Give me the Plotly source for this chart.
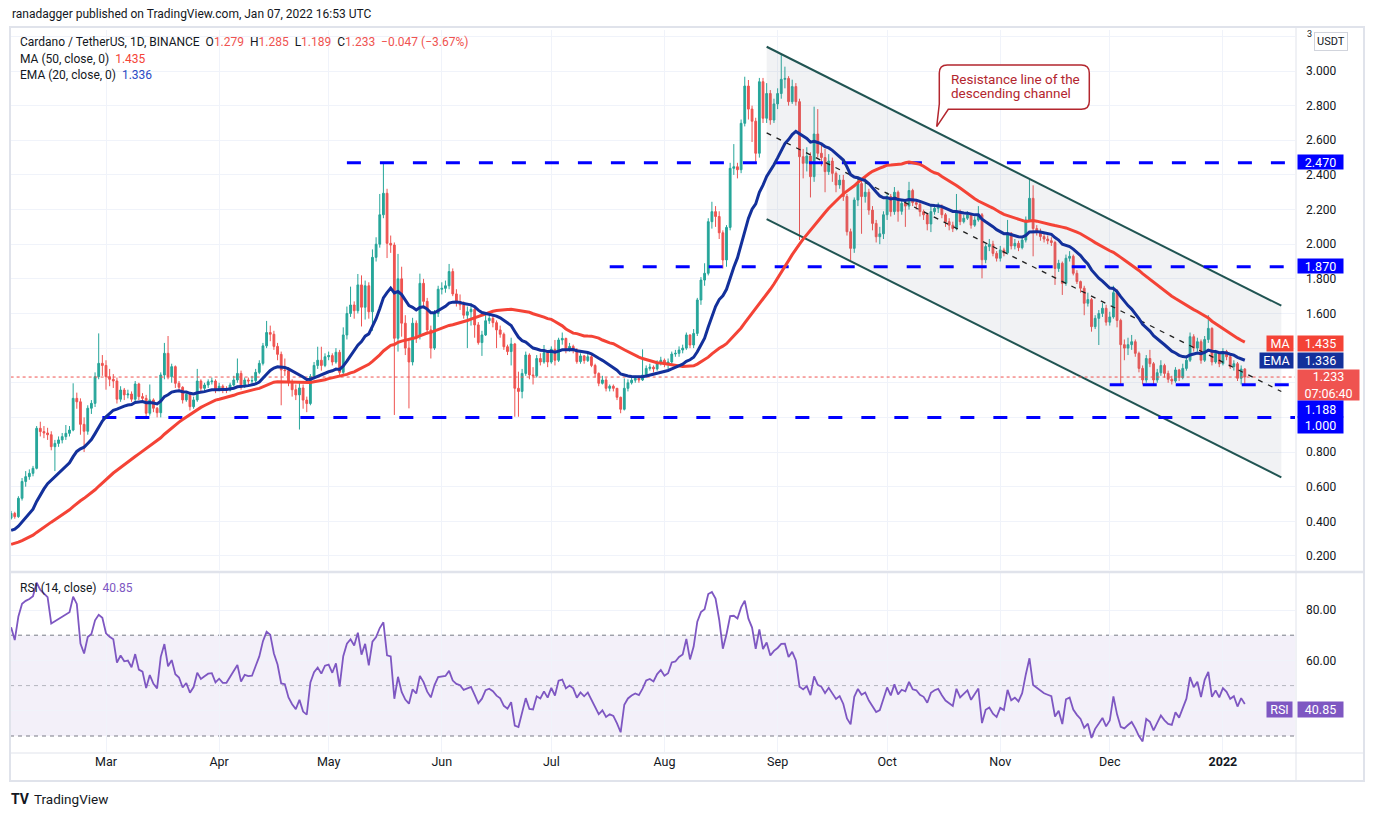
import pandas as pd
import plotly.graph_objects as go

# ---------------- data ----------------
# daily closes, 2021-02-03 .. 2022-01-07 (ADA/USDT, Binance)
closes = [
    # Feb 3-28
    0.446, 0.427, 0.533, 0.630, 0.658, 0.677, 0.706, 0.937, 0.918, 0.910, 0.900, 0.831, 0.850,
    0.870, 0.889, 0.908, 0.927, 1.110, 1.090, 0.960, 0.920, 1.053, 1.081, 1.235, 1.312, 1.300,
    # Mar
    1.235, 1.220, 1.210, 1.105, 1.158, 1.130, 1.135, 1.105, 1.193, 1.120, 1.110, 1.024, 1.101,
    1.053, 1.027, 1.245, 1.370, 1.235, 1.293, 1.197, 1.174, 1.101, 1.134, 1.062, 1.101, 1.210,
    1.168, 1.187, 1.206, 1.210, 1.158,
    # Apr
    1.180, 1.158, 1.158, 1.187, 1.216, 1.254, 1.180, 1.216, 1.210, 1.212, 1.260, 1.312, 1.413,
    1.490, 1.480, 1.410, 1.364, 1.274, 1.270, 1.200, 1.160, 1.130, 1.170, 1.100, 1.080, 1.236,
    1.300, 1.330, 1.300, 1.350,
    # May
    1.357, 1.320, 1.376, 1.260, 1.476, 1.600, 1.649, 1.616, 1.765, 1.636, 1.760, 1.610, 1.924,
    2.000, 2.170, 2.294, 2.005, 1.995, 1.457, 1.800, 1.544, 1.400, 1.320, 1.544, 1.470, 1.774,
    1.670, 1.505, 1.400, 1.600, 1.740,
    # Jun
    1.745, 1.760, 1.842, 1.713, 1.668, 1.650, 1.590, 1.610, 1.624, 1.534, 1.432, 1.476, 1.558,
    1.572, 1.547, 1.505, 1.480, 1.408, 1.380, 1.424, 1.168, 1.150, 1.254, 1.360, 1.245, 1.240,
    1.340, 1.320, 1.374, 1.320,
    # Jul
    1.393, 1.330, 1.447, 1.456, 1.389, 1.410, 1.390, 1.322, 1.355, 1.328, 1.350, 1.300, 1.254,
    1.197, 1.216, 1.168, 1.180, 1.168, 1.116, 1.047, 1.168, 1.200, 1.215, 1.225, 1.216, 1.245,
    1.283, 1.290, 1.280, 1.312, 1.330,
    # Aug
    1.310, 1.320, 1.366, 1.370, 1.389, 1.400, 1.476, 1.418, 1.485, 1.678, 1.793, 1.832, 2.130,
    2.188, 2.160, 2.066, 1.909, 2.097, 2.438, 2.447, 2.430, 2.698, 2.913, 2.780, 2.710, 2.525,
    2.938, 2.727, 2.870, 2.717, 2.810,
    # Sep
    2.870, 2.952, 2.957, 2.823, 2.910, 2.823, 2.505, 2.467, 2.509, 2.390, 2.636, 2.525, 2.500,
    2.419, 2.480, 2.409, 2.342, 2.370, 2.275, 2.072, 1.976, 2.255, 2.350, 2.275, 2.300, 2.197,
    2.120, 2.043, 2.060, 2.170,
    # Oct
    2.275, 2.188, 2.300, 2.190, 2.236, 2.220, 2.310, 2.240, 2.230, 2.188, 2.170, 2.117, 2.188,
    2.207, 2.217, 2.170, 2.130, 2.110, 2.090, 2.188, 2.130, 2.150, 2.170, 2.110, 2.140, 2.170,
    1.910, 1.986, 2.000, 1.947, 1.919,
    # Nov
    1.967, 1.950, 2.063, 1.990, 2.005, 1.980, 2.024, 2.140, 2.265, 2.090, 2.070, 2.044, 2.030,
    2.020, 2.010, 1.860, 1.890, 1.774, 1.919, 1.930, 1.832, 1.784, 1.746, 1.659, 1.680, 1.524,
    1.572, 1.600, 1.630, 1.550,
    # Dec
    1.580, 1.720, 1.560, 1.420, 1.400, 1.420, 1.437, 1.370, 1.283, 1.216, 1.340, 1.310, 1.216,
    1.258, 1.300, 1.254, 1.220, 1.210, 1.274, 1.230, 1.283, 1.330, 1.466, 1.400, 1.437, 1.330,
    1.450, 1.514, 1.320, 1.370, 1.310,
    # Jan 1-7
    1.380, 1.350, 1.293, 1.310, 1.226, 1.279, 1.233,
]

highs = [
    0.46, 0.455, 0.545, 0.65, 0.69, 0.70, 0.72, 0.95, 0.975, 0.95, 0.94, 0.92, 0.87,
    0.89, 0.91, 0.956, 0.95, 1.197, 1.143, 1.11, 1.00, 1.07, 1.10, 1.26, 1.485, 1.36,
    1.33, 1.28, 1.25, 1.23, 1.18, 1.17, 1.16, 1.15, 1.21, 1.20, 1.14, 1.13, 1.19,
    1.11, 1.06, 1.26, 1.43, 1.47, 1.31, 1.30, 1.21, 1.18, 1.15, 1.14, 1.12, 1.28,
    1.22, 1.20, 1.22, 1.23, 1.22,
    1.20, 1.19, 1.18, 1.20, 1.24, 1.34, 1.27, 1.23, 1.23, 1.24, 1.28, 1.33, 1.43,
    1.557, 1.53, 1.50, 1.43, 1.38, 1.34, 1.29, 1.22, 1.19, 1.20, 1.19, 1.12, 1.25,
    1.32, 1.408, 1.408, 1.37,
    1.38, 1.37, 1.40, 1.39, 1.52, 1.64, 1.755, 1.67, 1.828, 1.82, 1.79, 1.78, 1.97,
    2.04, 2.29, 2.467, 2.32, 2.05, 2.01, 1.944, 1.87, 1.59, 1.45, 1.575, 1.56, 1.83,
    1.80, 1.69, 1.53, 1.62, 1.76,
    1.78, 1.79, 1.886, 1.86, 1.74, 1.71, 1.67, 1.64, 1.66, 1.64, 1.55, 1.50, 1.60,
    1.60, 1.59, 1.56, 1.53, 1.49, 1.42, 1.46, 1.43, 1.264, 1.28, 1.38, 1.37, 1.29,
    1.36, 1.37, 1.418, 1.38,
    1.41, 1.447, 1.46, 1.49, 1.46, 1.43, 1.42, 1.40, 1.37, 1.36, 1.37, 1.36, 1.31,
    1.26, 1.24, 1.23, 1.19, 1.19, 1.17, 1.12, 1.225, 1.22, 1.23, 1.24, 1.24, 1.393,
    1.30, 1.31, 1.30, 1.33, 1.35,
    1.34, 1.34, 1.38, 1.39, 1.41, 1.42, 1.49, 1.48, 1.51, 1.69, 1.81, 1.89, 2.15,
    2.245, 2.22, 2.19, 2.08, 2.11, 2.47, 2.578, 2.47, 2.72, 2.967, 2.948, 2.80, 2.73,
    2.96, 2.96, 2.93, 2.89, 2.84,
    2.90, 3.098, 3.025, 2.97, 2.95, 2.93, 2.84, 2.55, 2.56, 2.53, 2.794, 2.78, 2.58,
    2.55, 2.52, 2.50, 2.42, 2.40, 2.40, 2.29, 2.09, 2.27, 2.39, 2.37, 2.39, 2.32,
    2.22, 2.14, 2.10, 2.19,
    2.30, 2.29, 2.33, 2.31, 2.26, 2.26, 2.36, 2.32, 2.26, 2.25, 2.20, 2.18, 2.22,
    2.23, 2.24, 2.23, 2.18, 2.15, 2.13, 2.29, 2.20, 2.17, 2.19, 2.18, 2.16, 2.22,
    2.18, 2.00, 2.03, 2.02, 1.96,
    1.99, 1.98, 2.14, 2.07, 2.03, 2.02, 2.04, 2.16, 2.375, 2.34, 2.11, 2.09, 2.06,
    2.05, 2.04, 2.02, 1.91, 1.90, 1.94, 1.96, 1.94, 1.85, 1.79, 1.76, 1.72, 1.69,
    1.59, 1.62, 1.66, 1.65,
    1.61, 1.76, 1.74, 1.57, 1.45, 1.46, 1.476, 1.45, 1.38, 1.30, 1.36, 1.39, 1.32,
    1.28, 1.33, 1.31, 1.27, 1.24, 1.29, 1.28, 1.31, 1.35, 1.49, 1.48, 1.46, 1.45,
    1.47, 1.59, 1.52, 1.39, 1.38,
    1.40, 1.39, 1.36, 1.33, 1.32, 1.30, 1.285,
]

lows = [
    0.41, 0.415, 0.42, 0.52, 0.60, 0.64, 0.66, 0.70, 0.89, 0.88, 0.87, 0.81, 0.69,
    0.83, 0.85, 0.87, 0.89, 0.92, 1.05, 0.90, 0.80, 0.90, 1.02, 1.06, 1.22, 1.24,
    1.16, 1.18, 1.17, 1.08, 1.09, 1.10, 1.11, 1.09, 1.09, 1.10, 1.09, 1.00, 1.01,
    1.03, 1.00, 1.00, 1.22, 1.22, 1.20, 1.17, 1.15, 1.08, 1.09, 1.04, 1.05, 1.09,
    1.15, 1.15, 1.17, 1.19, 1.14,
    1.15, 1.14, 1.14, 1.15, 1.18, 1.20, 1.16, 1.17, 1.19, 1.19, 1.20, 1.25, 1.30,
    1.40, 1.44, 1.39, 1.33, 1.07, 1.24, 1.18, 1.12, 1.10, 0.93, 1.05, 1.03, 1.07,
    1.22, 1.28, 1.27, 1.29,
    1.33, 1.30, 1.31, 1.24, 1.25, 1.45, 1.58, 1.57, 1.60, 1.525, 1.565, 1.57, 1.50,
    1.90, 1.98, 2.15, 1.92, 1.95, 1.014, 1.38, 1.466, 1.36, 1.052, 1.30, 1.43, 1.45,
    1.63, 1.48, 1.34, 1.39, 1.58,
    1.71, 1.72, 1.74, 1.70, 1.64, 1.62, 1.57, 1.40, 1.53, 1.46, 1.42, 1.355, 1.47,
    1.54, 1.52, 1.40, 1.46, 1.39, 1.36, 1.30, 1.004, 1.004, 1.11, 1.24, 1.22, 1.19,
    1.23, 1.30, 1.31, 1.29,
    1.31, 1.30, 1.32, 1.42, 1.37, 1.38, 1.37, 1.31, 1.31, 1.31, 1.32, 1.29, 1.23,
    1.18, 1.19, 1.15, 1.15, 1.15, 1.10, 1.024, 1.04, 1.15, 1.19, 1.20, 1.20, 1.21,
    1.23, 1.27, 1.26, 1.27, 1.30,
    1.29, 1.28, 1.30, 1.35, 1.35, 1.37, 1.39, 1.40, 1.40, 1.47, 1.65, 1.76, 1.82,
    2.09, 2.10, 2.03, 1.86, 1.87, 2.08, 2.40, 2.38, 2.41, 2.68, 2.72, 2.59, 2.477,
    2.50, 2.70, 2.70, 2.69, 2.70,
    2.78, 2.84, 2.90, 2.80, 2.81, 2.80, 2.024, 2.38, 2.42, 2.27, 2.36, 2.50, 2.45,
    2.30, 2.40, 2.36, 2.30, 2.32, 2.25, 2.05, 1.909, 1.95, 2.22, 2.06, 2.24, 2.17,
    2.08, 2.01, 2.00, 2.03,
    2.14, 2.16, 2.17, 2.13, 2.17, 2.10, 2.20, 2.22, 2.20, 2.16, 2.14, 2.08, 2.07,
    2.17, 2.18, 2.15, 2.10, 2.08, 2.07, 2.08, 2.11, 2.12, 2.14, 2.09, 2.10, 2.13,
    1.803, 1.89, 1.96, 1.93, 1.90,
    1.90, 1.93, 1.94, 1.97, 1.97, 1.96, 1.97, 2.01, 2.13, 1.93, 2.05, 2.02, 2.01,
    2.00, 1.99, 1.765, 1.84, 1.707, 1.76, 1.90, 1.82, 1.77, 1.72, 1.59, 1.64, 1.495,
    1.51, 1.418, 1.58, 1.53,
    1.53, 1.57, 1.52, 1.187, 1.33, 1.36, 1.39, 1.35, 1.26, 1.19, 1.20, 1.29, 1.19,
    1.20, 1.24, 1.23, 1.20, 1.19, 1.20, 1.21, 1.22, 1.27, 1.32, 1.38, 1.38, 1.31,
    1.32, 1.43, 1.30, 1.31, 1.29,
    1.30, 1.33, 1.28, 1.27, 1.21, 1.19, 1.189,
]

first_open = 0.418
start_date = "2021-02-03"

# off-chart closes (2020-12-15 .. 2021-02-02) that seed the MA / EMA / RSI
prior_closes = [
    0.150, 0.160, 0.166, 0.164, 0.168, 0.158, 0.148, 0.146, 0.131, 0.146, 0.153, 0.161, 0.163,
    0.177, 0.174, 0.188, 0.181,
    0.175, 0.177, 0.204, 0.225, 0.258, 0.311, 0.316, 0.302, 0.310, 0.296, 0.258, 0.277, 0.300,
    0.324, 0.333, 0.358, 0.370, 0.375, 0.358, 0.329, 0.290, 0.314, 0.316, 0.344, 0.330, 0.337,
    0.323, 0.366, 0.349, 0.349, 0.353,
    0.392, 0.390,
]

# drawn levels / channel
level_values = [2.470, 1.870, 1.188, 1.000]
level_labels = ["2.470", "1.870", "1.188", "1.000"]
level_starts = ["2021-05-06", "2021-07-17", "2021-12-01", "2021-02-28"]
channel_dates = ["2021-08-29", "2022-01-17"]
channel_upper = [3.140, 1.645]
channel_lower = [2.145, 0.654]
rsi_levels = [70, 50, 30]

month_ticks = ["2021-03-01", "2021-04-01", "2021-05-01", "2021-06-01", "2021-07-01", "2021-08-01",
               "2021-09-01", "2021-10-01", "2021-11-01", "2021-12-01", "2022-01-01"]
month_labels = ["Mar", "Apr", "May", "Jun", "Jul", "Aug", "Sep", "Oct", "Nov", "Dec", "<b>2022</b>"]
price_ticks = [0.2, 0.4, 0.6, 0.8, 1.0, 1.2, 1.4, 1.6, 1.8, 2.0, 2.2, 2.4, 2.6, 2.8, 3.0, 3.2]
hidden_price_ticks = [1.0, 1.2, 1.4, 3.2]
rsi_ticks = [40, 60, 80]

last_ohlc = {"O": "1.279", "H": "1.285", "L": "1.189", "C": "1.233"}
last_change = "\u22120.047 (\u22123.67%)"
ma_value, ema_value, rsi_value = "1.435", "1.336", "40.85"
countdown = "07:06:40"

# ---------------- derived series ----------------
dates = pd.date_range(start_date, periods=len(closes), freq="D")
opens = [first_open] + closes[:-1]
highs_c = [max(h, o, c) for h, o, c in zip(highs, opens, closes)]
lows_c = [min(l, o, c) for l, o, c in zip(lows, opens, closes)]

full = pd.Series(prior_closes + closes)
n0 = len(prior_closes)
ma50 = full.rolling(50, min_periods=1).mean().iloc[n0:].values
ema20 = full.ewm(span=20, adjust=False).mean().iloc[n0:].values
delta = full.diff()
gain = delta.clip(lower=0)
loss = -delta.clip(upper=0)
ag = gain.ewm(alpha=1 / 14, adjust=False).mean()
al = loss.ewm(alpha=1 / 14, adjust=False).mean()
rsi = (100 - 100 / (1 + ag / al)).iloc[n0:].values

# ---------------- styling ----------------
OFF = 8                      # the page body adds an 8px margin; compensate
W, H = 1374 - OFF, 816 - OFF
L_PX, R_PX, T_PX, B_PX = 10, 1295, 30, 752   # plot area in screenshot pixels
FONT = "Roboto"
TXT = "#131722"
GREEN, RED = "#26a69a", "#ef5350"
MA_C, EMA_C, RSI_C = "#f44336", "#13309b", "#7e57c2"
LEVEL_C = "#0000ff"
CH_C = "#205452"
GRID = "#f0f3fa"
BORDER = "#e0e3eb"
CALLOUT_C = "#b3262e"
x_range = ["2021-02-02 16:48", "2022-01-20 18:00"]
x_end = "2022-01-22"


def pxx(x):
    return (x - L_PX) / (R_PX - L_PX)


def pyy(y):
    return (B_PX - y) / (B_PX - T_PX)


fig = go.Figure()

# channel
fig.add_trace(go.Scatter(
    x=[channel_dates[0], channel_dates[1], channel_dates[1], channel_dates[0], channel_dates[0]],
    y=[channel_upper[0], channel_upper[1], channel_lower[1], channel_lower[0], channel_upper[0]],
    fill="toself", fillcolor="rgba(120,125,145,0.10)", line=dict(width=0),
    mode="lines", hoverinfo="skip", xaxis="x", yaxis="y"))
for arr in (channel_upper, channel_lower):
    fig.add_trace(go.Scatter(x=channel_dates, y=arr, mode="lines",
                             line=dict(color=CH_C, width=2), hoverinfo="skip",
                             xaxis="x", yaxis="y"))
mid = [(u + l) / 2 for u, l in zip(channel_upper, channel_lower)]
fig.add_trace(go.Scatter(x=channel_dates, y=mid, mode="lines",
                         line=dict(color="#202020", width=1.3, dash="5px,6px"),
                         hoverinfo="skip", xaxis="x", yaxis="y"))

# horizontal levels
for v, s in zip(level_values, level_starts):
    fig.add_trace(go.Scatter(x=[s, x_end], y=[v, v], mode="lines",
                             line=dict(color=LEVEL_C, width=3, dash="14px,19px"),
                             hoverinfo="skip", xaxis="x", yaxis="y"))

# last price dotted line
fig.add_trace(go.Scatter(x=["2021-01-01", x_end], y=[closes[-1], closes[-1]], mode="lines",
                         line=dict(color=RED, width=1, dash="dot"), hoverinfo="skip",
                         xaxis="x", yaxis="y"))

# candles
fig.add_trace(go.Candlestick(
    x=dates, open=opens, high=highs_c, low=lows_c, close=closes,
    increasing=dict(line=dict(color=GREEN, width=1), fillcolor=GREEN),
    decreasing=dict(line=dict(color=RED, width=1), fillcolor=RED),
    whiskerwidth=0, xaxis="x", yaxis="y", hoverinfo="skip"))

# MA / EMA
fig.add_trace(go.Scatter(x=dates, y=ma50, mode="lines", line=dict(color=MA_C, width=3),
                         hoverinfo="skip", xaxis="x", yaxis="y"))
fig.add_trace(go.Scatter(x=dates, y=ema20, mode="lines", line=dict(color=EMA_C, width=3),
                         hoverinfo="skip", xaxis="x", yaxis="y"))

# RSI
fig.add_trace(go.Scatter(x=dates, y=rsi, mode="lines", line=dict(color=RSI_C, width=1.8),
                         hoverinfo="skip", xaxis="x2", yaxis="y2"))

shapes = []
# RSI band and guide lines
shapes.append(dict(type="rect", xref="paper", yref="y2", x0=0, x1=1, y0=rsi_levels[2], y1=rsi_levels[0],
                   fillcolor="rgba(126,87,194,0.09)", line=dict(width=0), layer="below"))
for lv in rsi_levels:
    shapes.append(dict(type="line", xref="paper", yref="y2", x0=0, x1=1, y0=lv, y1=lv,
                       line=dict(color="#787b86" if lv != 50 else "rgba(120,123,134,0.5)",
                                 width=1, dash="4px,4px"), layer="below"))
# frame
fb = dict(color=BORDER, width=2)
shapes.append(dict(type="rect", xref="paper", yref="paper", x0=pxx(10), x1=pxx(1364),
                   y0=pyy(781), y1=pyy(27), line=fb))
shapes.append(dict(type="line", xref="paper", yref="paper", x0=pxx(1296), x1=pxx(1296),
                   y0=pyy(781), y1=pyy(27), line=dict(color=BORDER, width=1)))
shapes.append(dict(type="line", xref="paper", yref="paper", x0=pxx(10), x1=pxx(1364),
                   y0=pyy(753), y1=pyy(753), line=dict(color=BORDER, width=1)))
shapes.append(dict(type="line", xref="paper", yref="paper", x0=pxx(10), x1=pxx(1364),
                   y0=pyy(572), y1=pyy(572), line=dict(color=BORDER, width=2.5)))

# callout bubble
pts = [("M", 947.3, 65), ("L", 1081.3, 65), ("Q", 1089.3, 65, 1089.3, 73), ("L", 1089.3, 101.3),
       ("Q", 1089.3, 109.3, 1081.3, 109.3), ("L", 948.3, 109.3), ("L", 936.7, 126.7),
       ("L", 939.3, 104), ("L", 939.3, 73), ("Q", 939.3, 65, 947.3, 65)]
path = ""
for p in pts:
    cmd = p[0]
    coords = p[1:]
    seg = " ".join(f"{pxx(coords[i]):.5f},{pyy(coords[i+1]):.5f}" for i in range(0, len(coords), 2))
    path += f"{cmd} {seg} "
path += "Z"
shapes.append(dict(type="path", xref="paper", yref="paper", path=path,
                   fillcolor="white", line=dict(color=CALLOUT_C, width=1.5)))

ann = []


def add_text(text, x, y, size=12.5, color=TXT, xanchor="left", **kw):
    ann.append(dict(text=text, x=pxx(x), y=pyy(y), xref="paper", yref="paper",
                    xanchor=xanchor, yanchor="middle", showarrow=False,
                    font=dict(family=FONT, size=size, color=color), **kw))


def add_box(text, x, y, bg, w, h=15, xanchor="left", size=12.5):
    ann.append(dict(text=text, x=pxx(x), y=pyy(y), xref="paper", yref="paper",
                    xanchor=xanchor, yanchor="middle", showarrow=False, bgcolor=bg,
                    width=w, height=h, borderpad=0, align="center",
                    font=dict(family=FONT, size=size, color="white")))


NB = "\u00a0"
add_text("ranadagger published on TradingView.com, Jan 07, 2022 16:53 UTC", 10, 14, size=12)
red = lambda s: f"<span style='color:{RED}'>{s}</span>"
leg = ("Cardano / TetherUS, 1D, BINANCE" + NB * 2 +
       "O" + red(last_ohlc["O"]) + NB * 2 + "H" + red(last_ohlc["H"]) + NB * 2 +
       "L" + red(last_ohlc["L"]) + NB * 2 + "C" + red(last_ohlc["C"]) + NB * 2 + red(last_change))
add_text(leg, 18, 42, size=12)
add_text("MA (50, close, 0)" + NB * 2 + f"<span style='color:{MA_C}'>{ma_value}</span>", 18, 58.5, size=12)
add_text("EMA (20, close, 0)" + NB * 2 + f"<span style='color:#2a4bc4'>{ema_value}</span>", 18, 75, size=12)
add_text("RSI (14, close)" + NB * 2 + f"<span style='color:{RSI_C}'>{rsi_value}</span>", 18, 588, size=12)

add_text("Resistance line of the", 949, 79.5, size=13.5, color=CALLOUT_C)
add_text("descending channel", 949, 93, size=13.5, color=CALLOUT_C)

# right-axis boxes
add_box("MA", 1294, 343, MA_C, 26, xanchor="right")
add_box(ma_value, 1297, 343, MA_C, 45)
add_box("EMA", 1294, 360, EMA_C, 33, xanchor="right")
add_box(ema_value, 1297, 360, EMA_C, 45)
add_box(f"{closes[-1]:.3f}<br>{countdown}", 1297, 384.5, RED, 61, h=30)
add_box(level_labels[0], 1297, 162, LEVEL_C, 45, h=14)
add_box(level_labels[1], 1297, 266, LEVEL_C, 45, h=14)
add_box(level_labels[2], 1297, 408.5, LEVEL_C, 45, h=16)
add_box(level_labels[3], 1297, 425, LEVEL_C, 45, h=16)
add_box("RSI", 1293, 709, RSI_C, 25, xanchor="right")
add_box(rsi_value, 1297, 709, RSI_C, 45)

ann.append(dict(text="USDT", x=pxx(1331), y=pyy(42), xref="paper", yref="paper",
                xanchor="center", yanchor="middle", showarrow=False, bgcolor="white",
                bordercolor="#d1d4dc", borderwidth=1, borderpad=2,
                font=dict(family=FONT, size=11, color=TXT)))
add_text("3", 1305, 34, size=9)

# TradingView logo
add_text("<b>TV</b>", 9, 799, size=14, color=TXT)
add_text("TradingView", 32, 799, size=13.5, color=TXT)

fig.update_layout(
    width=W, height=H,
    margin=dict(l=L_PX - OFF, r=W - (R_PX - OFF), t=T_PX - OFF, b=H - (B_PX - OFF)),
    paper_bgcolor="white", plot_bgcolor="white",
    showlegend=False,
    shapes=shapes, annotations=ann,
    font=dict(family=FONT, size=12, color=TXT),
    xaxis=dict(domain=[0, 1], anchor="y", type="date", range=x_range, matches="x2",
               tickvals=month_ticks, showticklabels=False, showgrid=True, gridcolor=GRID,
               zeroline=False, rangeslider=dict(visible=False), showline=False),
    xaxis2=dict(domain=[0, 1], anchor="y2", type="date", range=x_range,
                tickvals=month_ticks, ticktext=month_labels, showgrid=True, gridcolor=GRID,
                zeroline=False, showline=False, ticks="",
                tickfont=dict(family=FONT, size=12.5, color=TXT)),
    yaxis=dict(domain=[pyy(570), 1], anchor="x", side="right",
               range=[3 - (570 - 71) / 173.2, 3 + (71 - 30) / 173.2],
               tickvals=price_ticks,
               ticktext=["" if t in hidden_price_ticks else f"{t:.3f}" for t in price_ticks],
               showgrid=True, gridcolor=GRID, zeroline=False, ticks="", showline=False,
               ticklabelstandoff=10, tickfont=dict(family=FONT, size=12, color=TXT)),
    yaxis2=dict(domain=[0, pyy(573)], anchor="x2", side="right",
                range=[30 - (752 - 736) / 2.52, 80 + (610 - 573) / 2.52],
                tickvals=rsi_ticks, ticktext=["", "60.00", "80.00"],
                showgrid=True, gridcolor=GRID, zeroline=False, ticks="", showline=False,
                ticklabelstandoff=10, tickfont=dict(family=FONT, size=12, color=TXT)),
)

fig.write_html("out.html")
